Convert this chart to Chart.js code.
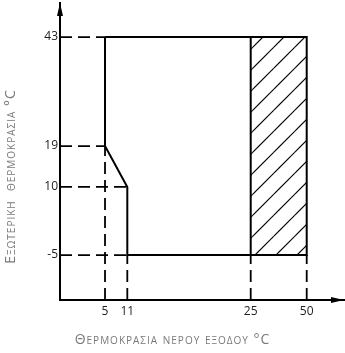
<!DOCTYPE html>
<html><head><meta charset="utf-8">
<script src="https://cdn.jsdelivr.net/npm/chart.js@4"></script>
<style>html,body{margin:0;padding:0;background:#fff}canvas{display:block}</style>
</head><body>
<canvas id="c" width="345" height="353"></canvas>
<script>
// ---- data ----
const xTicks = [5, 11, 25, 50];
const yTicks = [-5, 10, 19, 43];
const envelopeX = [5, 50, 50, 11, 11, 5, 5];
const envelopeY = [43, 43, -5, -5, 10, 19, 43];
const dividerX = [25, 25];
const dividerY = [-5, 43];
const hatchX = [25, 50];
const hatchTop = [43, 43];
const hatchBottom = -5;
const yGuideValues = [43, 19, 10, -5];
const yGuideEnds = [5, 5, 11, 11];
const xGuideValues = [5, 11, 25, 50];
const xGuideEnds = [19, -5, -5, -5];
const xTitle = 'Θερμοκρασια νερου εξοδου °C';
const yTitle = 'Εξωτερικη  θερμοκρασια °C';

// axis ranges
const X_MIN = 0, X_MAX = 56;
const Y_MIN = -14.9, Y_MAX = 50.5;
// the reference x axis is not to scale: value -> fraction of axis length
const X_ANCHORS = [[0, 0], [5, 0.1585], [11, 0.237], [25, 0.6715], [50, 0.8687], [56, 1]];

class PiecewiseScale extends Chart.LinearScale {
  _dec(v) {
    const a = X_ANCHORS;
    for (let i = 1; i < a.length; i++) {
      if (v <= a[i][0] || i === a.length - 1) {
        const [v0, f0] = a[i - 1], [v1, f1] = a[i];
        return f0 + (v - v0) * (f1 - f0) / (v1 - v0);
      }
    }
  }
  getPixelForValue(v) { return v === null ? NaN : this.getPixelForDecimal(this._dec(v)); }
  getValueForPixel(p) {
    const d = this.getDecimalForPixel(p), a = X_ANCHORS;
    for (let i = 1; i < a.length; i++) {
      if (d <= a[i][1] || i === a.length - 1) {
        const [v0, f0] = a[i - 1], [v1, f1] = a[i];
        return v0 + (d - f0) * (v1 - v0) / (f1 - f0);
      }
    }
  }
}
PiecewiseScale.id = 'piecewise';
PiecewiseScale.defaults = Chart.LinearScale.defaults;
Chart.register(PiecewiseScale);

function makeHatch() {
  const s = 21, c = document.createElement('canvas');
  c.width = s; c.height = s;
  const g = c.getContext('2d');
  g.strokeStyle = '#000'; g.lineWidth = 1.2;
  for (let k = -1; k <= 2; k++) {
    const t = 6 + s * k;
    g.beginPath(); g.moveTo(t + 6, -6); g.lineTo(-6, t + 6); g.stroke();
  }
  return g.createPattern(c, 'repeat');
}

const pts = (xs, ys) => xs.map((x, i) => ({x, y: ys[i]}));
const base = {pointRadius: 0, tension: 0, borderColor: '#000', fill: false, borderCapStyle: 'butt', borderJoinStyle: 'miter'};

const datasets = [
  Object.assign({}, base, {data: pts(envelopeX, envelopeY), borderWidth: 2}),
  Object.assign({}, base, {data: pts(dividerX, dividerY), borderWidth: 2}),
  Object.assign({}, base, {data: pts(hatchX, hatchTop), borderWidth: 0, backgroundColor: makeHatch(), fill: {value: hatchBottom}}),
];
yGuideValues.forEach((v, i) => datasets.push(Object.assign({}, base, {
  data: [{x: X_MIN, y: v}, {x: yGuideEnds[i], y: v}], borderWidth: 1.8, borderDash: [12, 6]
})));
xGuideValues.forEach((v, i) => datasets.push(Object.assign({}, base, {
  data: [{x: v, y: Y_MIN}, {x: v, y: xGuideEnds[i]}], borderWidth: 1.8, borderDash: [12, 6]
})));

const arrows = {
  id: 'arrows',
  afterDraw(chart) {
    const {ctx, chartArea: a} = chart;
    ctx.save();
    ctx.fillStyle = '#000';
    ctx.beginPath();
    ctx.moveTo(a.left, a.top); ctx.lineTo(a.left - 3, a.top + 13); ctx.lineTo(a.left + 3, a.top + 13); ctx.closePath(); ctx.fill();
    ctx.beginPath();
    ctx.moveTo(a.right, a.bottom); ctx.lineTo(a.right - 13, a.bottom - 3); ctx.lineTo(a.right - 13, a.bottom + 3); ctx.closePath(); ctx.fill();
    ctx.restore();
  }
};

// axis titles in small caps, centred on the figure
const titles = {
  id: 'titles',
  afterDraw(chart) {
    const {ctx, width, height} = chart;
    ctx.save();
    ctx.font = "14px 'Open Sans'";
    if ('fontVariantCaps' in ctx) ctx.fontVariantCaps = 'small-caps';
    if ('letterSpacing' in ctx) ctx.letterSpacing = '1px';
    ctx.fillStyle = '#7a7a7a';
    ctx.textAlign = 'center';
    ctx.textBaseline = 'middle';
    ctx.fillText(xTitle, width / 2, height - 12.5);
    ctx.translate(11, height / 2);
    ctx.rotate(-Math.PI / 2);
    ctx.fillText(yTitle, 0, 0);
    ctx.restore();
  }
};

const tickFont = {family: "'Open Sans'", size: 12};
const noPad = s => { s.paddingLeft = 0; s.paddingRight = 0; s.paddingTop = 0; s.paddingBottom = 0; };

new Chart(document.getElementById('c'), {
  type: 'line',
  data: {datasets},
  plugins: [arrows, titles],
  options: {
    responsive: false, devicePixelRatio: 1, animation: false, events: [],
    layout: {padding: {top: 3, right: 1, left: 18.6, bottom: 22.6}},
    plugins: {legend: {display: false}, tooltip: {enabled: false}},
    scales: {
      x: {
        type: 'piecewise', min: X_MIN, max: X_MAX,
        afterBuildTicks: s => { s.ticks = xTicks.map(v => ({value: v})); },
        afterFit: s => { s.height = 30.4; noPad(s); },
        grid: {display: false, drawTicks: false},
        border: {display: true, color: '#000', width: 2},
        ticks: {color: '#222', font: tickFont, padding: 4, maxRotation: 0, autoSkip: false, callback: v => String(v)}
      },
      y: {
        type: 'linear', min: Y_MIN, max: Y_MAX,
        afterBuildTicks: s => { s.ticks = yTicks.map(v => ({value: v})); },
        afterFit: s => { s.width = 41.4; noPad(s); },
        grid: {display: false, drawTicks: false},
        border: {display: true, color: '#000', width: 2},
        ticks: {color: '#222', font: tickFont, padding: 2, autoSkip: false, callback: v => String(v)}
      }
    }
  }
});
</script>
</body></html>
